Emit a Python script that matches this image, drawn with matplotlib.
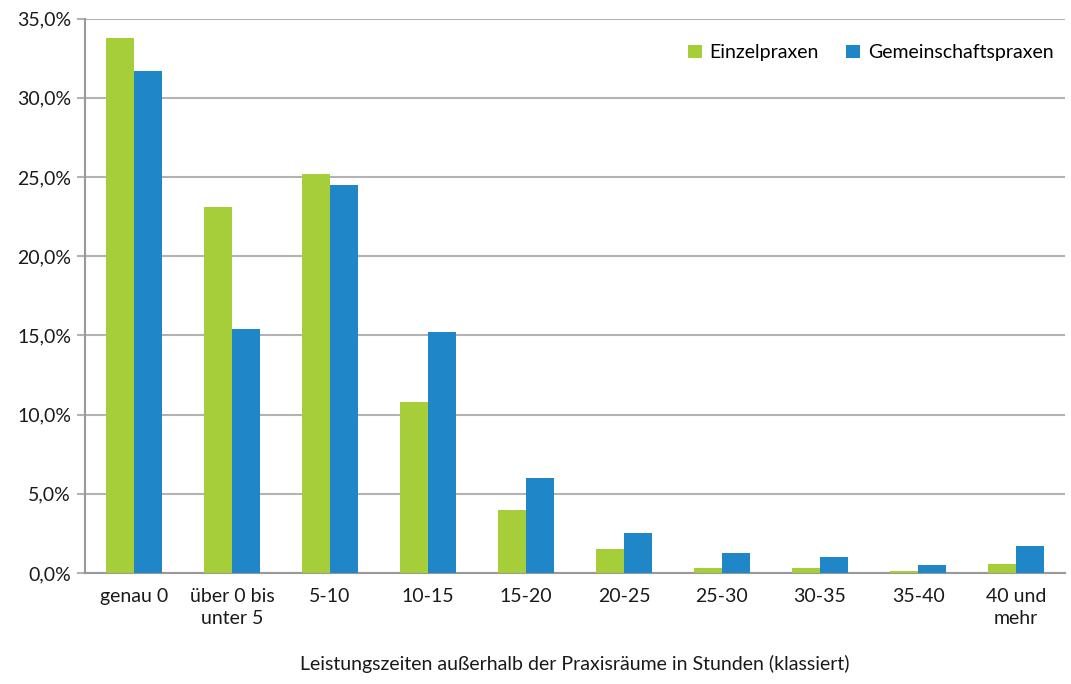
import matplotlib
matplotlib.use("Agg")
import matplotlib.pyplot as plt
import numpy as np
from matplotlib.ticker import FuncFormatter, MultipleLocator

categories = ["genau 0", "über 0 bis\nunter 5", "5-10", "10-15", "15-20",
              "20-25", "25-30", "30-35", "35-40", "40 und\nmehr"]
einzelpraxen = [33.8, 23.1, 25.2, 10.8, 4.0, 1.5, 0.3, 0.3, 0.13, 0.57]
gemeinschaftspraxen = [31.7, 15.4, 24.5, 15.2, 6.0, 2.5, 1.26, 1.0, 0.5, 1.7]

GREEN = "#A6CE39"
BLUE = "#1F87C8"
GRID = "#B3B3B3"
FS = 14

plt.rcParams["font.family"] = ["Lato", "DejaVu Sans"]

fig = plt.figure(figsize=(10.71, 6.84), dpi=100)
ax = fig.add_axes([0.0794, 0.1623, 0.915, 0.8104])

x = np.arange(len(categories))
w = 0.29
ax.bar(x - w / 2, einzelpraxen, width=w, color=GREEN, label="Einzelpraxen", zorder=3)
ax.bar(x + w / 2, gemeinschaftspraxen, width=w, color=BLUE, label="Gemeinschaftspraxen", zorder=3)

ax.set_xlim(-0.5, len(categories) - 0.5)
ax.set_ylim(0, 35)
ax.yaxis.set_major_locator(MultipleLocator(5))
ax.yaxis.set_major_formatter(FuncFormatter(lambda v, _: f"{v:.1f}%".replace(".", ",")))
ax.grid(axis="y", color=GRID, linewidth=1.5, zorder=0)

ax.set_xticks(x)
ax.set_xticklabels(categories, fontsize=FS, color="#1a1a1a", linespacing=1.35)
ax.tick_params(axis="x", length=0, pad=11)
ax.tick_params(axis="y", length=6, width=1.5, color=GRID, labelsize=FS,
               labelcolor="#1a1a1a", pad=4)

for side in ("top", "right"):
    ax.spines[side].set_visible(False)
for side in ("left", "bottom"):
    ax.spines[side].set_color("#999999")
    ax.spines[side].set_linewidth(1.5)

ax.set_xlabel("Leistungszeiten außerhalb der Praxisräume in Stunden (klassiert)",
              fontsize=FS, color="#1a1a1a", labelpad=20)

ax.legend(loc="upper right", bbox_to_anchor=(1.0, 0.975), ncol=2, frameon=False,
          fontsize=FS, handlelength=0.7, handleheight=0.7, handletextpad=0.4,
          columnspacing=1.4, borderaxespad=0.2)

fig.savefig("out.png", dpi=100)
